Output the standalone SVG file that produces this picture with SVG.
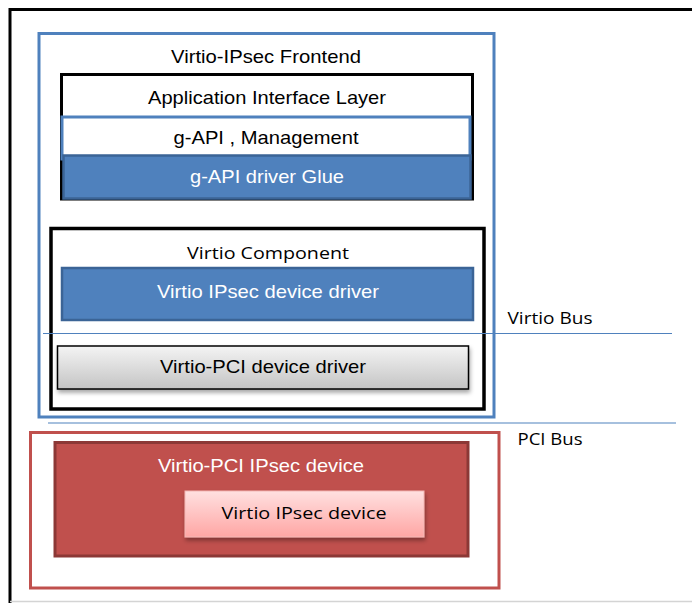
<svg xmlns="http://www.w3.org/2000/svg" width="692" height="603" viewBox="0 0 692 603">
<defs>
<linearGradient id="gray" x1="0" y1="0" x2="0" y2="1"><stop offset="0" stop-color="#f4f4f4"/><stop offset="1" stop-color="#c4c4c4"/></linearGradient>
<linearGradient id="pink" x1="0" y1="0" x2="0" y2="1"><stop offset="0" stop-color="#ffe0e0"/><stop offset="1" stop-color="#ffa6a4"/></linearGradient>
<filter id="sh" x="-10%" y="-20%" width="130%" height="160%"><feDropShadow dx="1" dy="3" stdDeviation="2" flood-color="#000" flood-opacity="0.35"/></filter>
<style>
.a{font-family:"Liberation Sans",Arial,sans-serif;font-size:19px;text-anchor:middle;fill:#000}
.c{font-family:"Open Sans","Noto Sans",sans-serif;font-size:17px;text-anchor:middle;fill:#000}
.w{fill:#fff}
.bus{stroke:#4F81BD;stroke-width:1.2;fill:none}
.blueFill{fill:#4F81BD;stroke:#3B6496;stroke-width:2.5}
</style>
</defs>
<rect width="692" height="603" fill="#fff"/>
<g id="frame">
<path d="M10,603 V9.5 H692" fill="none" stroke="#000" stroke-width="3"/>
<line x1="10" y1="601.5" x2="692" y2="601.5" stroke="#d4d4d4" stroke-width="1.5"/>
</g>
<g id="frontend">
<rect x="39" y="33.5" width="455" height="383.5" fill="none" stroke="#4F81BD" stroke-width="3"/>
<text class="a" x="266" y="63" textLength="190" lengthAdjust="spacingAndGlyphs">Virtio-IPsec Frontend</text>
</g>
<g id="app-layer">
<rect x="61.5" y="74.5" width="411" height="124.5" fill="#fff" stroke="#000" stroke-width="3"/>
<text class="a" x="267" y="104" textLength="238" lengthAdjust="spacingAndGlyphs">Application Interface Layer</text>
</g>
<g id="gapi-mgmt">
<rect x="62" y="117" width="408" height="42" fill="#fff" stroke="#4F81BD" stroke-width="3"/>
<text class="a" x="266" y="144" textLength="185" lengthAdjust="spacingAndGlyphs">g-API , Management</text>
</g>
<g id="gapi-glue">
<rect class="blueFill" x="63.5" y="155.5" width="407" height="43"/>
<text class="a w" x="267" y="183" textLength="154" lengthAdjust="spacingAndGlyphs">g-API driver Glue</text>
</g>
<g id="virtio-component">
<rect x="51" y="228.5" width="433" height="180.5" fill="#fff" stroke="#000" stroke-width="3.5"/>
<text class="c" x="268" y="259" textLength="162" lengthAdjust="spacingAndGlyphs">Virtio Component</text>
</g>
<g id="virtio-ipsec-driver">
<rect class="blueFill" x="62" y="268" width="411" height="52"/>
<text class="a w" x="268" y="298" textLength="222" lengthAdjust="spacingAndGlyphs">Virtio IPsec device driver</text>
</g>
<g id="virtio-pci-driver">
<rect x="57.5" y="346" width="411" height="43" fill="url(#gray)" stroke="#000" stroke-width="1.5" filter="url(#sh)"/>
<text class="a" x="263" y="373" textLength="206" lengthAdjust="spacingAndGlyphs">Virtio-PCI device driver</text>
</g>
<g id="connectors">
<line class="bus" x1="43" y1="333.5" x2="672" y2="333.5"/>
<line class="bus" x1="48" y1="423" x2="676" y2="423"/>
</g>
<g id="virtio-bus-label">
<text class="c" x="550" y="324" textLength="85" lengthAdjust="spacingAndGlyphs">Virtio Bus</text>
</g>
<g id="pci-bus-label">
<text class="c" x="550" y="445" textLength="65" lengthAdjust="spacingAndGlyphs">PCI Bus</text>
</g>
<g id="pci-outer">
<rect x="30.5" y="432.5" width="468.5" height="155.5" fill="#fff" stroke="#C0504D" stroke-width="3"/>
</g>
<g id="virtio-pci-ipsec-device">
<rect x="55" y="442.5" width="413" height="113.5" fill="#C0504D" stroke="#8C3836" stroke-width="3"/>
<text class="a w" x="261" y="472" textLength="206" lengthAdjust="spacingAndGlyphs">Virtio-PCI IPsec device</text>
</g>
<g id="virtio-ipsec-device">
<rect x="185" y="491" width="239" height="46" fill="url(#pink)" stroke="#f3b8b6" stroke-width="1" filter="url(#sh)"/>
<text class="c" x="304" y="519" textLength="165" lengthAdjust="spacingAndGlyphs">Virtio IPsec device</text>
</g>
</svg>
